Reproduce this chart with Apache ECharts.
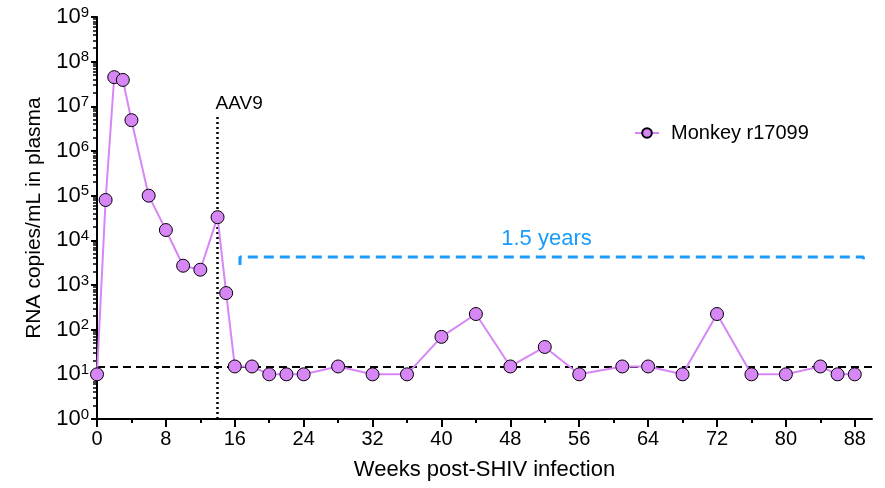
<!DOCTYPE html>
<html>
<head>
<meta charset="utf-8">
<script src="https://cdn.jsdelivr.net/npm/echarts@6/dist/echarts.min.js"></script>
<style>
  html, body { margin: 0; padding: 0; background: #fff; }
  #main { width: 885px; height: 488px; }
</style>
</head>
<body>
<div id="main"></div>
<script>
// data
var weeks = [0, 1, 2, 3, 4, 6, 8, 10, 12, 14, 15, 16, 18, 20, 22, 24, 28, 32, 36, 40, 44, 48, 52, 56, 61, 64, 68, 72, 76, 80, 84, 86, 88];
var copies = [10, 8e4, 4.5e7, 3.9e7, 4.9e6, 1e5, 1.7e4, 2.7e3, 2.2e3, 3.3e4, 660, 15, 15, 10, 10, 10, 15, 10, 10, 69, 224, 15, 41, 10, 15, 15, 10, 224, 10, 10, 15, 10, 10];
var xTicks = [0, 8, 16, 24, 32, 40, 48, 56, 64, 72, 80, 88];
var xMinorTicks = [4, 12, 20, 28, 36, 44, 52, 60, 68, 76, 84];
var yDecades = [1, 1e1, 1e2, 1e3, 1e4, 1e5, 1e6, 1e7, 1e8, 1e9];
var detectionLimit = 15;
var aav9Week = 14;
var aav9Top = 5.8e6;
var bracketX = [16.6, 89];
var bracketY = [2800, 4260];
var bracketLabel = '1.5 years';
var labelPos = [52.2, 1.1e4];

var font = 'Liberation Sans, Arial, sans-serif';
var violet = '#d786f5';
var blue = '#1a9bfc';

// log-spaced minor ticks, placed on a linear axis in log10 units
var yMinorLog = [];
for (var d = 0; d < yDecades.length - 1; d++) {
  for (var k = 2; k <= 9; k++) yMinorLog.push(Math.log10(k * yDecades[d]));
}

var bracketData = [
  [bracketX[0], bracketY[0]], [bracketX[0], bracketY[1]],
  [bracketX[1], bracketY[1]], [bracketX[1], bracketY[0]]
];

var myChart = echarts.init(document.getElementById('main'));
var option = {
  animation: false,
  textStyle: { fontFamily: font },
  grid: { left: 97, right: 13, top: 17, bottom: 69, containLabel: false },
  legend: {
    data: ['Monkey r17099'],
    left: 629, top: 118,
    itemWidth: 24, itemHeight: 12,
    textStyle: { fontSize: 20, color: '#000', fontFamily: font, padding: [0, 0, 0, 7] }
  },
  xAxis: [{
    type: 'value', min: 0, max: 90,
    name: 'Weeks post-SHIV infection', nameLocation: 'middle', nameGap: 40,
    nameTextStyle: { fontSize: 22, color: '#000', fontFamily: font },
    splitLine: { show: false },
    axisLine: { lineStyle: { color: '#000', width: 2 } },
    axisTick: { customValues: xTicks, length: 8, lineStyle: { color: '#000', width: 2 } },
    axisLabel: { customValues: xTicks, fontSize: 20, color: '#000', margin: 10, fontFamily: font }
  }, {
    type: 'value', min: 0, max: 90, position: 'bottom',
    splitLine: { show: false },
    axisLine: { show: false },
    axisTick: { customValues: xMinorTicks, length: 4, lineStyle: { color: '#000', width: 2 } },
    axisLabel: { show: false }
  }],
  yAxis: [{
    type: 'log', logBase: 10, min: 1, max: 1e9,
    name: 'RNA copies/mL in plasma', nameLocation: 'middle', nameGap: 52,
    nameTextStyle: { fontSize: 21, color: '#000', fontFamily: font },
    splitLine: { show: false },
    axisLine: { show: true, lineStyle: { color: '#000', width: 2 } },
    axisTick: { length: 6, lineStyle: { color: '#000', width: 2 } },
    axisLabel: {
      margin: 8, color: '#000',
      formatter: function (v) {
        return '{b|10}{s|' + Math.round(Math.log10(v)) + '}';
      },
      rich: {
        b: { fontSize: 22, fontFamily: font, color: '#000', lineHeight: 24 },
        s: { fontSize: 15, fontFamily: font, color: '#000', verticalAlign: 'top', lineHeight: 24, padding: [0, 0, 12, 0] }
      }
    }
  }, {
    type: 'value', min: 0, max: 9, position: 'left',
    splitLine: { show: false },
    axisLine: { show: false },
    axisTick: { customValues: yMinorLog, length: 4, lineStyle: { color: '#000', width: 1.5 } },
    axisLabel: { show: false }
  }],
  series: [{
    name: 'Monkey r17099',
    type: 'line',
    data: weeks.map(function (w, i) { return [w, copies[i]]; }),
    symbol: 'circle', symbolSize: 13,
    lineStyle: { color: violet, width: 2 },
    itemStyle: { color: violet, borderColor: '#000', borderWidth: 1 },
    z: 5,
    markLine: {
      silent: true, symbol: 'none', animation: false,
      data: [
        {
          yAxis: detectionLimit,
          lineStyle: { color: '#000', type: [8, 5], width: 2 },
          label: { show: false }
        },
        [
          { coord: [aav9Week, 1], lineStyle: { color: '#000', type: [2, 3], width: 2.5 }, label: { show: false } },
          { coord: [aav9Week, aav9Top] }
        ]
      ]
    }
  }, {
    name: 'bracket',
    type: 'line',
    data: bracketData,
    symbol: 'none',
    lineStyle: { color: blue, width: 3, type: [10, 6] },
    z: 3
  }, {
    name: 'notes',
    type: 'scatter',
    symbolSize: 0,
    itemStyle: { color: 'transparent', opacity: 1 },
    data: [
      { value: labelPos, label: { formatter: bracketLabel, color: blue, fontSize: 22 } },
      { value: [aav9Week, aav9Top * 2], label: { formatter: 'AAV9', color: '#000', align: 'left', offset: [-2, 0], fontSize: 19 } }
    ],
    label: { show: true, position: 'inside', fontFamily: font, textBorderWidth: 0 },
    silent: true
  }]
};
myChart.setOption(option);
</script>
</body>
</html>
